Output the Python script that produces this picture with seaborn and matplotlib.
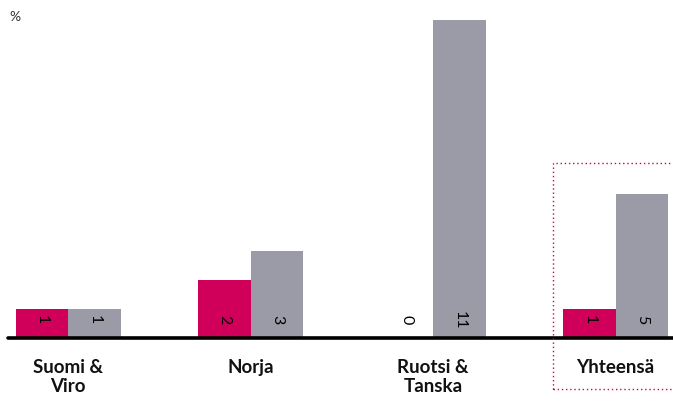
import numpy as np
import pandas as pd
import matplotlib
matplotlib.use("Agg")
import matplotlib.pyplot as plt
import seaborn as sns
from matplotlib.patches import Rectangle

regions = ["Suomi &\nViro", "Norja", "Ruotsi &\nTanska", "Yhteensä"]
series_a = [1, 2, 0, 1]
series_b = [1, 3, 11, 5]
series_names = ["a", "b"]
colors = ["#D0005A", "#9A9BA6"]

df = pd.DataFrame({
    "region": regions * 2,
    "value": series_a + series_b,
    "series": [series_names[0]] * 4 + [series_names[1]] * 4,
})

sns.set_style("white")
plt.rcParams["font.family"] = ["Lato", "DejaVu Sans"]

fig = plt.figure(figsize=(6.73, 4.03), dpi=100)
ax = fig.add_axes([8 / 673, 1 - 338 / 403, 1 - 8 / 673, (338 - 10) / 403])

sns.barplot(data=df, x="region", y="value", hue="series", palette=colors,
            width=0.575, saturation=1, ax=ax, legend=False, linewidth=0)

# value labels low inside the bars, turned clockwise
for cont in ax.containers:
    for p, v in zip(cont.patches, cont.datavalues):
        ax.text(p.get_x() + p.get_width() / 2, 0.62, f"{v:g}", rotation=-90,
                ha="center", va="center", fontsize=11.5, color="black",
                rotation_mode="anchor")

ax.set_xlim(-0.33, 3.315)
ax.set_ylim(0, 11.35)
ax.axhline(0, color="black", lw=2.6, clip_on=False)
sns.despine(ax=ax, left=True, bottom=True)
ax.set_yticks([])
ax.set_xlabel("")
ax.set_ylabel("")
ax.tick_params(axis="x", length=0, pad=15)
for lbl in ax.get_xticklabels():
    lbl.set_fontweight("bold")
    lbl.set_fontsize(13.5)
    lbl.set_linespacing(1.12)
    lbl.set_color("#111111")

fig.text(9 / 673, 1 - 17 / 403, "%", fontsize=10, color="#333333", va="center")

box = Rectangle((553 / 673, 1 - 389 / 403), 0.3, (389 - 163) / 403,
                transform=fig.transFigure, fill=False, edgecolor="#D0005A",
                lw=1, linestyle=(0, (1, 2)), clip_on=False)
fig.patches.append(box)

fig.savefig("out.png", dpi=100)
